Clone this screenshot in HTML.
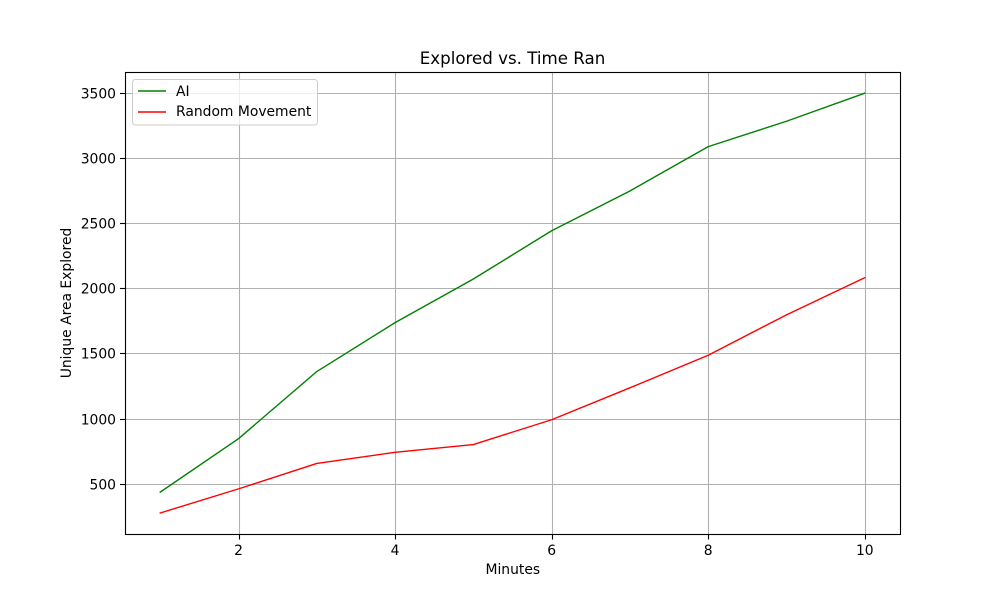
<!DOCTYPE html>
<html>
<head>
<meta charset="utf-8">
<title>Explored vs. Time Ran</title>
<style>
html,body{margin:0;padding:0;background:#fff;}
svg{display:block;}
text{font-family:"DejaVu Sans",sans-serif;font-size:13.89px;fill:#000;}
</style>
</head>
<body>
<svg id="chart" width="1000" height="600" viewBox="0 0 1000 600" xmlns="http://www.w3.org/2000/svg">
<rect x="0" y="0" width="1000" height="600" fill="#fff"/>
<g id="grid"></g>
<g id="series"></g>
<rect x="125.5" y="72.5" width="775" height="462" fill="none" stroke="#000" stroke-width="1.1"/>
<g id="ticks"></g>
<text x="512.5" y="64" text-anchor="middle" style="font-size:16.67px">Explored vs. Time Ran</text>
<text x="512.8" y="574" text-anchor="middle">Minutes</text>
<text transform="translate(71 303) rotate(-90)" text-anchor="middle">Unique Area Explored</text>
<g>
<rect x="132.5" y="79.5" width="185" height="45.5" rx="2.8" fill="#fff" fill-opacity="0.8" stroke="#ccc" stroke-width="1"/>
<line x1="138" y1="91" x2="166" y2="91" stroke="#008000" stroke-width="1.39"/>
<text x="176" y="96">AI</text>
<line x1="138" y1="112" x2="166" y2="112" stroke="#ff0000" stroke-width="1.39"/>
<text x="176" y="116">Random Movement</text>
</g>
</svg>
<script>
const minutes = [1, 2, 3, 4, 5, 6, 7, 8, 9, 10];
const aiValues = [440, 850, 1365, 1740, 2075, 2445, 2750, 3090, 3285, 3500];
const randomValues = [280, 465, 660, 745, 805, 995, 1240, 1490, 1800, 2085];
const xTickLabels = [2, 4, 6, 8, 10];
const yTickLabels = [500, 1000, 1500, 2000, 2500, 3000, 3500];

const NS = 'http://www.w3.org/2000/svg';
const xScale = function (v) { return 160.227 + (v - 1) * 78.283; };
const yScale = function (v) { return 484.3 - (v - 500) * (484.3 - 93.2) / 3000; };

const gridGroup = document.getElementById('grid');
const tickGroup = document.getElementById('ticks');
const seriesGroup = document.getElementById('series');

function make(tag, attrs, parent) {
  const el = document.createElementNS(NS, tag);
  for (const k in attrs) el.setAttribute(k, attrs[k]);
  parent.appendChild(el);
  return el;
}

xTickLabels.forEach(function (t) {
  const x = Math.round(xScale(t)) + 0.5;
  const g = make('line', { x1: x, y1: 72, x2: x, y2: 534, stroke: '#b0b0b0', 'stroke-width': 1.1 }, gridGroup);
  
  
  const m = make('line', { x1: x, y1: 534, x2: x, y2: 539.5, stroke: '#000', 'stroke-width': 1.1 }, tickGroup);
  
  
  const l = make('text', { x: xScale(t), y: 555, 'text-anchor': 'middle' }, tickGroup);
  
  
  l.textContent = t;
});

yTickLabels.forEach(function (t) {
  const y = Math.floor(yScale(t)) + 0.5;
  const g = make('line', { x1: 125, y1: y, x2: 900, y2: y, stroke: '#b0b0b0', 'stroke-width': 1.1 }, gridGroup);
  
  
  const m = make('line', { x1: 120, y1: y, x2: 125, y2: y, stroke: '#000', 'stroke-width': 1.1 }, tickGroup);
  
  
  const l = make('text', { x: 116, y: y + 5, 'text-anchor': 'end' }, tickGroup);
  
  
  l.textContent = t;
});

function pointsFor(values) {
  return values.map(function (v, i) { return xScale(minutes[i]) + ',' + yScale(v); }).join(' ');
}

const aiLine = make('polyline', { points: pointsFor(aiValues), fill: 'none', stroke: '#008000', 'stroke-width': 1.39, 'stroke-linejoin': 'round', 'stroke-linecap': 'square' }, seriesGroup);



const randomLine = make('polyline', { points: pointsFor(randomValues), fill: 'none', stroke: '#ff0000', 'stroke-width': 1.39, 'stroke-linejoin': 'round', 'stroke-linecap': 'square' }, seriesGroup);


</script>
</body>
</html>
